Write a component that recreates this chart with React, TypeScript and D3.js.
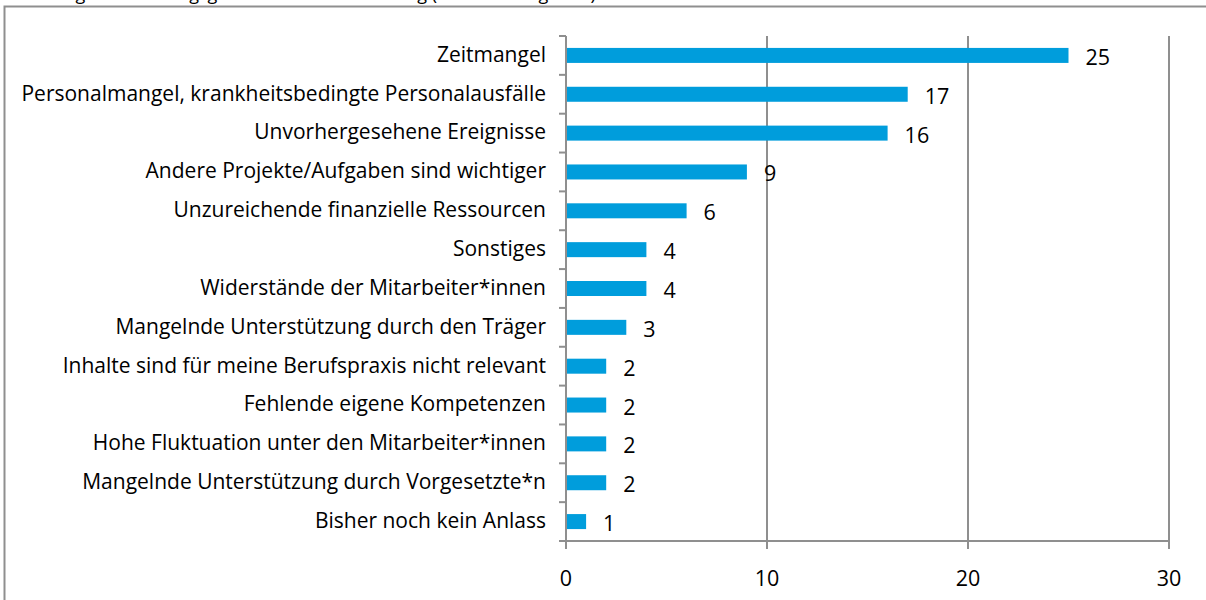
import React from "react";
import * as d3 from "d3";

const categories = [
  "Zeitmangel",
  "Personalmangel, krankheitsbedingte Personalausfälle",
  "Unvorhergesehene Ereignisse",
  "Andere Projekte/Aufgaben sind wichtiger",
  "Unzureichende finanzielle Ressourcen",
  "Sonstiges",
  "Widerstände der Mitarbeiter*innen",
  "Mangelnde Unterstützung durch den Träger",
  "Inhalte sind für meine Berufspraxis nicht relevant",
  "Fehlende eigene Kompetenzen",
  "Hohe Fluktuation unter den Mitarbeiter*innen",
  "Mangelnde Unterstützung durch Vorgesetzte*n",
  "Bisher noch kein Anlass",
];
const values = [25, 17, 16, 9, 6, 4, 4, 3, 2, 2, 2, 2, 1];
const xTicks = [0, 10, 20, 30];
const title = "Abbildung 5: Hinderungsgründe für die Umsetzung (Mehrfachangaben)";

const W = 1206;
const H = 600;
const FONT = "'Open Sans', sans-serif";
const GRID = "#8f8f8f";
const BAR = "#009ddc";

export default function App() {
  const x = d3.scaleLinear().domain([0, 30]).range([566, 1169]);
  const y = d3.scaleBand<string>().domain(categories).range([36, 541]).paddingInner(0).paddingOuter(0);
  const bw = y.bandwidth();
  const barH = 15;
  const boundaries = d3.range(categories.length + 1).map((i) => 36 + i * bw);

  return (
    <svg
      width={W}
      height={H}
      style={{ position: "absolute", left: 0, top: 0, background: "#fff" }}
      fontFamily={FONT}
    >
      <text x={0} y={0} fontSize={18} fill="#000">{title}</text>
      <rect x={4.5} y={6.5} width={1300} height={700} fill="none" stroke={GRID} strokeWidth={2} />
      {xTicks.filter((t) => t > 0).map((t) => (
        <line key={"g" + t} x1={x(t)} x2={x(t)} y1={36} y2={549} stroke={GRID} strokeWidth={2} />
      ))}
      <line x1={x(0)} x2={x(0)} y1={36} y2={549} stroke={GRID} strokeWidth={2} />
      {boundaries.map((b, i) => (
        <line key={"t" + i} x1={559} x2={x(0)} y1={b} y2={b} stroke={GRID} strokeWidth={2} />
      ))}
      <line x1={559} x2={x(30)} y1={541} y2={541} stroke={GRID} strokeWidth={2} />
      {categories.map((c, i) => {
        const cy = (y(c) as number) + bw / 2;
        return (
          <g key={c}>
            <rect x={x(0) + 1} y={cy - barH / 2} width={x(values[i]) - x(0) - 1} height={barH} fill={BAR} />
            <text x={546} y={cy - 1} dy="0.35em" textAnchor="end" fontSize={21} fill="#000">{c}</text>
            <text x={x(values[i]) + 17} y={cy + 2} dy="0.35em" fontSize={21.5} fill="#000">{values[i]}</text>
          </g>
        );
      })}
      {xTicks.map((t) => (
        <text key={"l" + t} x={x(t)} y={578} dy="0.35em" textAnchor="middle" fontSize={21.5} fill="#000">{t}</text>
      ))}
    </svg>
  );
}
